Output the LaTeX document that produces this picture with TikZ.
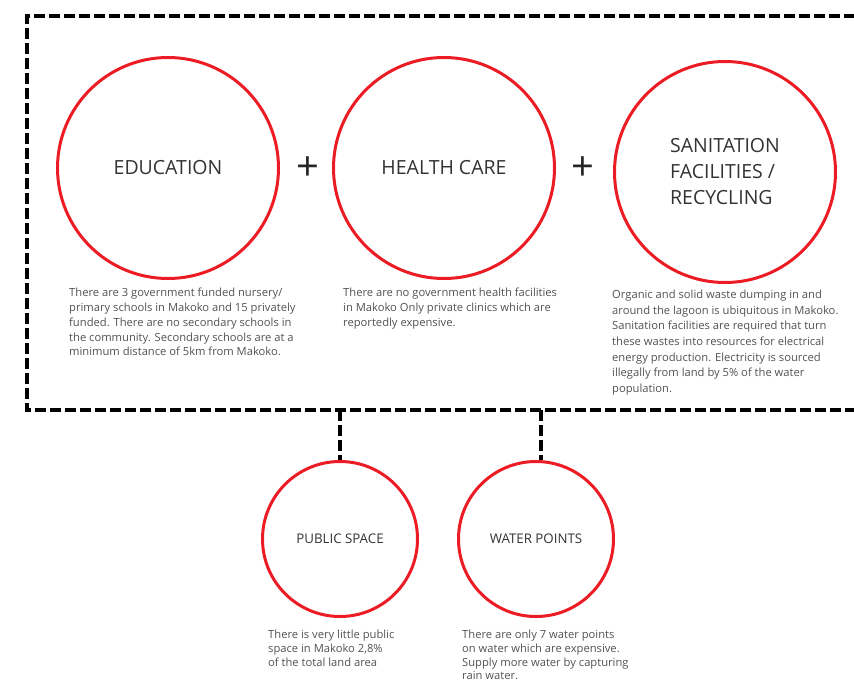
\documentclass[tikz,border=0pt]{standalone}
\usepackage{fontspec}
\setmainfont{Open Sans}
\usetikzlibrary{positioning}
\definecolor{ringred}{RGB}{236,28,36}

\begin{document}
\begin{tikzpicture}[x=1pt,y=-1pt]
    \tikzstyle{topic}=[circle,draw=ringred,line width=3pt,inner sep=0pt,text=black!80,font=\fontsize{19.5}{26}\selectfont,align=left]
    \tikzstyle{big}=[topic,minimum size=221pt]
    \tikzstyle{small}=[topic,minimum size=155pt,font=\fontsize{13.3}{16}\selectfont]
    \tikzstyle{note}=[anchor=north west,inner sep=0pt,align=left,text=black!68,font=\fontsize{11.2}{14.8}\selectfont]
    \tikzstyle{frame}=[line width=3.5pt,dash pattern=on 11pt off 4pt]
    \useasboundingbox (0,0) rectangle (854,688);
    \clip (0,0) rectangle (854,688);
    % dashed frame round the three main topics
    \draw[frame] (870,16) -- (27,16) -- (27,410) -- (870,410);
    \node[big] (edu) at (168,168) {EDUCATION};
    \node[big] (health) at (444,168) {HEALTH CARE};
    \node[big] (sani) at (725,172) {SANITATION\\FACILITIES /\\RECYCLING};
    \node[font=\fontsize{40}{40}\selectfont,text=black!85] (plus1) at (308,169) {+};
    \node[font=\fontsize{40}{40}\selectfont,text=black!85] (plus2) at (583,169) {+};
    \node[note] (edutext) at (69,288) {There are 3 government funded nursery/\\primary schools in Makoko and 15 privately\\funded. There are no secondary schools in\\the community. Secondary schools are at a\\minimum distance of 5km from Makoko.};
    \node[note] (healthtext) at (343,288) {There are no government health facilities\\in Makoko Only private clinics which are\\reportedly expensive.};
    \node[note,font=\fontsize{11.2}{15.6}\selectfont] (sanitext) at (612,290) {Organic and solid waste dumping in and\\around the lagoon is ubiquitous in Makoko.\\Sanitation facilities are required that turn\\these wastes into resources for electrical\\energy production. Electricity is sourced\\illegally from land by 5\% of the water\\population.};
    % the two topics below the frame
    \node[small] (pub) at (340,539) {PUBLIC SPACE};
    \node[small] (water) at (536,539) {WATER POINTS};
    \coordinate (b1) at (340,410);
    \coordinate (b2) at (541,410);
    \draw[frame] (b1) -- (pub.north);
    \draw[frame] (b2) -- (b2 |- water.north);
    \node[note,font=\fontsize{11.2}{13.7}\selectfont] (pubtext) at (268,630) {There is very little public\\space in Makoko 2,8\%\\of the total land area};
    \node[note,font=\fontsize{11.2}{13.7}\selectfont] (watertext) at (462,630) {There are only 7 water points\\on water which are expensive.\\Supply more water by capturing\\rain water.};
\end{tikzpicture}
\end{document}
